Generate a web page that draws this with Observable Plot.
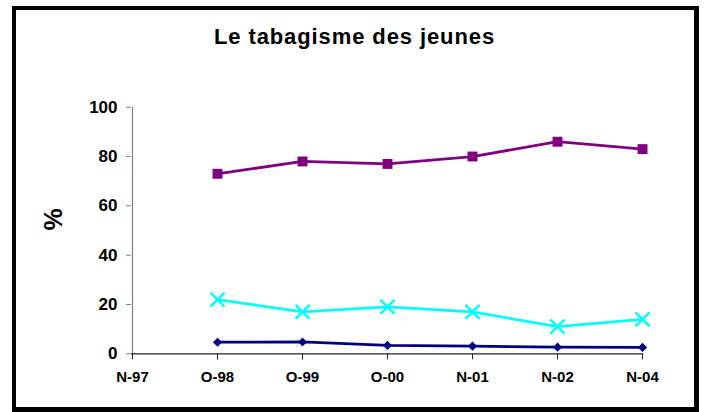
<!DOCTYPE html>
<html>
<head>
<meta charset="utf-8">
<script src="https://cdn.jsdelivr.net/npm/d3@7"></script>
<script src="https://cdn.jsdelivr.net/npm/@observablehq/plot@0.6"></script>
<style>
  html, body { margin: 0; padding: 0; background: #fff; }
  #wrap { position: relative; width: 704px; height: 412px; font-family: Arial, "Liberation Sans", sans-serif; }
  #border { position: absolute; left: 12px; top: 6px; width: 687px; height: 406px; box-sizing: border-box;
            border-style: solid; border-color: #000; border-width: 4px 5px 5px 4px; pointer-events: none; }
</style>
</head>
<body>
<div id="wrap"><div id="border"></div></div>
<script>
const title = "Le tabagisme des jeunes";
const yLabel = "%";
const categories = ["N-97", "O-98", "O-99", "O-00", "N-01", "N-02", "N-04"];
const periods = ["O-98", "O-99", "O-00", "N-01", "N-02", "N-04"];
const seriesPurple = [73, 78, 77, 80, 86, 83];
const seriesCyan = [22, 17, 19, 17, 11, 14];
const seriesNavy = [4.7, 4.8, 3.4, 3.1, 2.7, 2.6];
const yTicks = [0, 20, 40, 60, 80, 100];

const toRows = (vals) => periods.map((p, i) => ({period: p, value: vals[i]}));
const purple = toRows(seriesPurple);
const cyan = toRows(seriesCyan);
const navy = toRows(seriesNavy);

const font = 'Arial, "Liberation Sans", sans-serif';

const chart = Plot.plot({
  width: 704,
  height: 412,
  marginLeft: 131,
  marginRight: 61,
  marginTop: 106.7,
  marginBottom: 58.7,
  style: {fontFamily: font, background: "transparent", overflow: "visible"},
  x: {type: "point", domain: categories, padding: 0},
  y: {domain: [0, 100]},
  marks: [
    Plot.axisY({ticks: yTicks, tickSize: 5, tickPadding: 9, fontSize: 17, fontWeight: "bold", stroke: "#808080", fill: "#000", label: null}),
    Plot.axisX({tickSize: 6, tickPadding: 12, fontSize: 15, fontWeight: "bold", stroke: "#222", fill: "#000", label: null}),
    Plot.ruleX([categories[0]], {y1: 0, y2: 100, stroke: "#808080", strokeWidth: 1.2}),
    Plot.ruleY([0], {stroke: "#222", strokeWidth: 1.2}),
    Plot.lineY(navy, {x: "period", y: "value", stroke: "#000080", strokeWidth: 2.8}),
    Plot.dot(navy, {x: "period", y: "value", symbol: "diamond2", r: 4.1, fill: "#000080", stroke: "none"}),
    Plot.lineY(cyan, {x: "period", y: "value", stroke: "#00FFFF", strokeWidth: 2.8}),
    Plot.dot(cyan, {x: "period", y: "value", symbol: "times", r: 6.4, stroke: "#00FFFF", strokeWidth: 2.5}),
    Plot.lineY(purple, {x: "period", y: "value", stroke: "#800080", strokeWidth: 2.8}),
    Plot.dot(purple, {x: "period", y: "value", symbol: "square", r: 5.6, fill: "#800080", stroke: "none"}),
    Plot.text([yLabel], {frameAnchor: "left", dx: -78, rotate: -90, fontSize: 25, fontWeight: "bold", fill: "#000", text: d => d}),
    Plot.text([title], {frameAnchor: "top", lineAnchor: "top", dx: -33, dy: -79, fontSize: 22, fontWeight: "bold", fill: "#000", text: d => d})
  ]
});
d3.select(chart).selectAll("text").filter(function() { return this.textContent === title; })
  .attr("letter-spacing", "0.9px");
document.getElementById("wrap").insertBefore(chart, document.getElementById("border"));
</script>
</body>
</html>
